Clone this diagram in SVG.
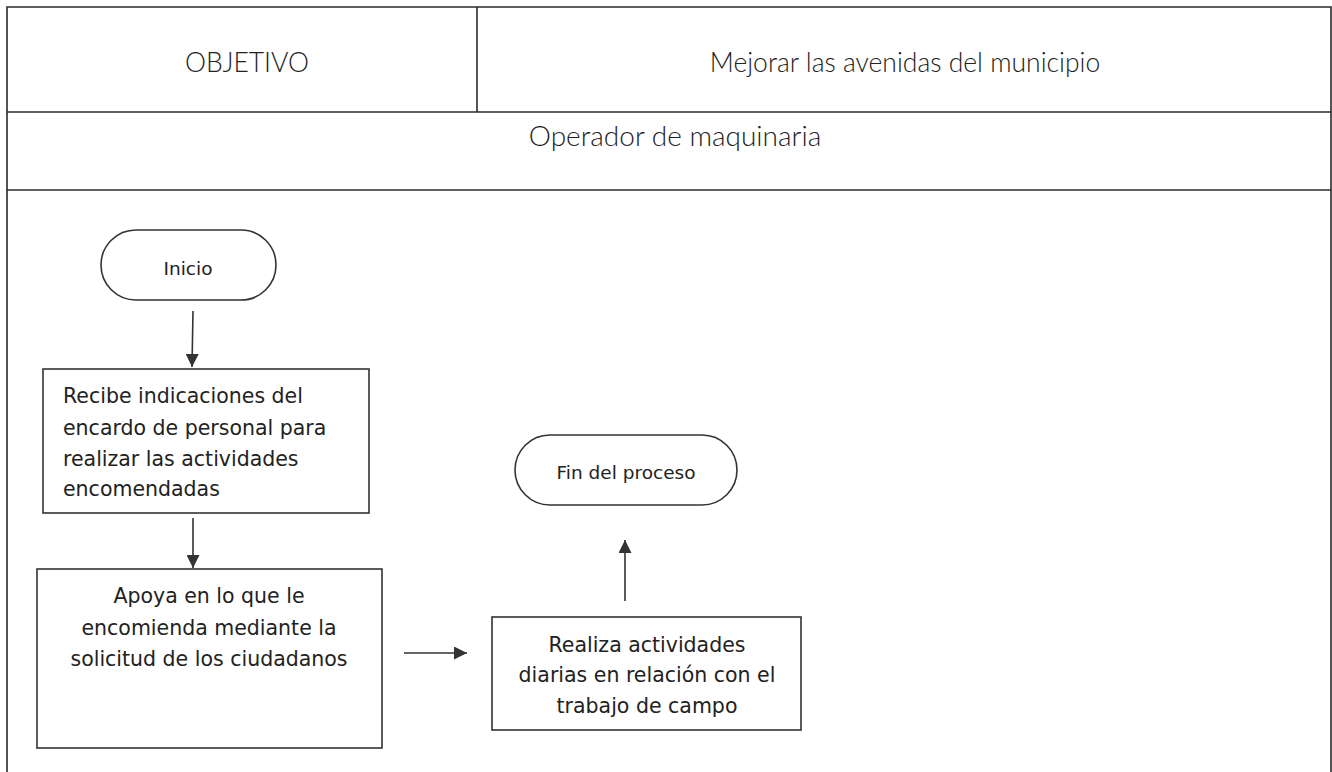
<svg xmlns="http://www.w3.org/2000/svg" width="1332" height="772" viewBox="0 0 1332 772">
<defs>
<style>
.frame{fill:none;stroke:#2a2a2a;stroke-width:1.6}
.box{fill:#fff;stroke:#333;stroke-width:1.6}
.hdr{font-family:Lato,"Open Sans",sans-serif;font-weight:300;font-size:26.5px;fill:#222;text-anchor:middle}
.txt{font-family:"DejaVu Sans",Verdana,sans-serif;font-size:20.5px;fill:#222}
.sm{font-family:"DejaVu Sans",Verdana,sans-serif;font-size:18.5px;fill:#222;text-anchor:middle}
.conn{stroke:#333;stroke-width:1.6;fill:none;marker-end:url(#ah)}
</style>
<marker id="ah" viewBox="0 0 10 10" refX="10" refY="5" markerWidth="14" markerHeight="13" markerUnits="userSpaceOnUse" orient="auto">
<path d="M0,0 L10,5 L0,10 z" fill="#333"/>
</marker>
</defs>
<rect width="1332" height="772" fill="#fff"/>
<g id="table">
<path class="frame" d="M7,772 V7 H1331 V772"/>
<line class="frame" x1="7" y1="112" x2="1331" y2="112"/>
<line class="frame" x1="7" y1="190" x2="1331" y2="190"/>
<line class="frame" x1="477" y1="7" x2="477" y2="112"/>
<text class="hdr" x="247" y="72">OBJETIVO</text>
<text class="hdr" x="905" y="72">Mejorar las avenidas del municipio</text>
<text class="hdr" x="675" y="146" style="font-size:28px">Operador de maquinaria</text>
</g>
<g id="connectors">
<line class="conn" x1="193" y1="311" x2="192" y2="367"/>
<line class="conn" x1="193" y1="518" x2="193" y2="568"/>
<line class="conn" x1="404" y1="653" x2="467" y2="653"/>
<line class="conn" x1="625" y1="601" x2="625" y2="540"/>
</g>
<g id="inicio">
<rect class="box" x="101" y="230" width="175" height="70" rx="35"/>
<text class="sm" x="188" y="275">Inicio</text>
</g>
<g id="recibe">
<rect class="box" x="43" y="369" width="326" height="144"/>
<text class="txt" x="63" y="403">Recibe indicaciones del</text>
<text class="txt" x="63" y="435">encardo de personal para</text>
<text class="txt" x="63" y="466">realizar las actividades</text>
<text class="txt" x="63" y="496">encomendadas</text>
</g>
<g id="apoya">
<rect class="box" x="37" y="569" width="345" height="179"/>
<text class="txt" x="209" y="603" text-anchor="middle">Apoya en lo que le</text>
<text class="txt" x="209" y="635" text-anchor="middle">encomienda mediante la</text>
<text class="txt" x="209" y="666" text-anchor="middle">solicitud de los ciudadanos</text>
</g>
<g id="realiza">
<rect class="box" x="492" y="617" width="309" height="113"/>
<text class="txt" x="647" y="652" text-anchor="middle">Realiza actividades</text>
<text class="txt" x="647" y="682" text-anchor="middle">diarias en relación con el</text>
<text class="txt" x="647" y="713" text-anchor="middle">trabajo de campo</text>
</g>
<g id="fin">
<rect class="box" x="515" y="435" width="222" height="70" rx="35"/>
<text class="sm" x="626" y="479">Fin del proceso</text>
</g>
</svg>
